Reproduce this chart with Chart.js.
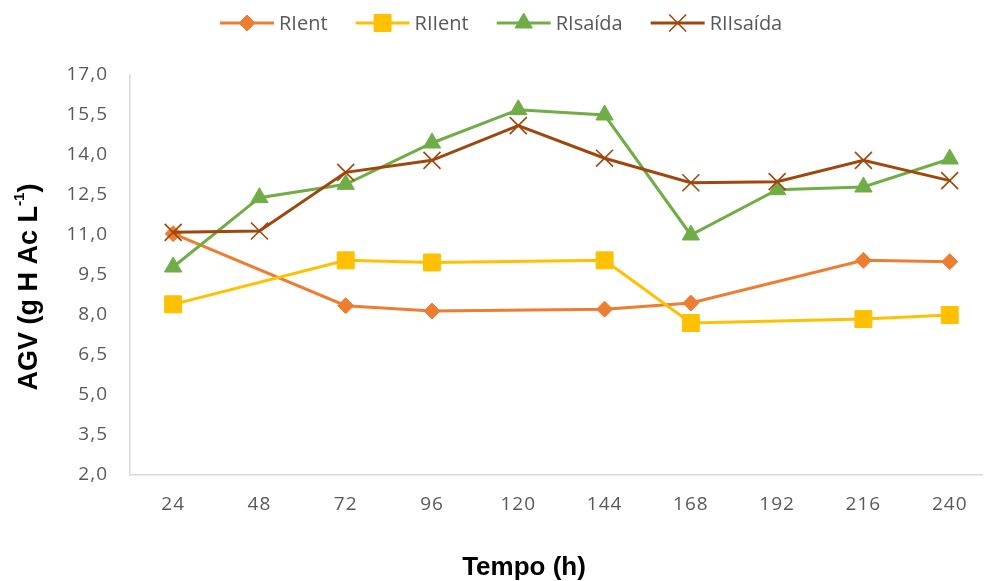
<!DOCTYPE html>
<html>
<head>
<meta charset="utf-8">
<script src="https://cdn.jsdelivr.net/npm/chart.js@4/dist/chart.umd.min.js"></script>
<style>
  html, body { margin: 0; padding: 0; background: #ffffff; }
  #wrap { width: 984px; height: 581px; position: relative; }
</style>
</head>
<body>
<div id="wrap"><canvas id="chart" width="984" height="581"></canvas></div>
<script>
// Sampling times (h)
const categories = [24, 48, 72, 96, 120, 144, 168, 192, 216, 240];

// AGV (g H Ac L-1) per reactor; null = not measured at that time
const rIent    = [11.05, null, 8.35, 8.15, null, 8.22, 8.45, null, 10.05, 10.0];
const rIIent   = [8.4,   null, 10.05, 9.97, null, 10.05, 7.7, null, 7.85, 8.0];
const rIsaida  = [9.8, 12.4, 12.9, 14.45, 15.7, 15.5, 11.0, 12.7, 12.8, 13.85];
const rIIsaida = [11.1, 11.15, 13.35, 13.8, 15.1, 13.88, 12.96, 13.0, 13.8, 13.04];

// Y axis ticks
const yTicks = [2.0, 3.5, 5.0, 6.5, 8.0, 9.5, 11.0, 12.5, 14.0, 15.5, 17.0];

const seriesNames = ['RIent', 'RIIent', 'RIsaída', 'RIIsaída'];
const seriesValues = [rIent, rIIent, rIsaida, rIIsaida];
const seriesColors = ['#ED7D31', '#FFC000', '#70AD47', '#9E480E'];
const seriesMarkers = [
  { pointStyle: 'rectRot',  radius: 8,  borderWidth: 1 },
  { pointStyle: 'rect',     radius: 12, borderWidth: 1 },
  { pointStyle: 'triangle', radius: 10, borderWidth: 1 },
  { pointStyle: 'crossRot', radius: 12, borderWidth: 1.6 }
];

const toPoints = vals => categories
  .map((c, i) => ({ x: c, y: vals[i] }))
  .filter(p => p.y !== null);

const datasets = seriesNames.map((name, i) => ({
  label: name,
  data: toPoints(seriesValues[i]),
  borderColor: seriesColors[i],
  backgroundColor: seriesColors[i],
  borderWidth: 3,
  pointStyle: seriesMarkers[i].pointStyle,
  pointRadius: seriesMarkers[i].radius,
  pointHoverRadius: seriesMarkers[i].radius,
  pointBorderWidth: seriesMarkers[i].borderWidth,
  pointBackgroundColor: seriesColors[i],
  pointBorderColor: seriesColors[i],
  tension: 0,
  spanGaps: true,
  order: seriesNames.length - i
}));

const fmt = v => v.toFixed(1).replace('.', ',');

// Slightly spaced digits on the axis tick labels
const tickSpacing = {
  id: 'tickSpacing',
  beforeDraw(chart) { chart.ctx.letterSpacing = '1px'; },
  afterDraw(chart) { chart.ctx.letterSpacing = '0px'; }
};

// Legend and axis titles drawn on the canvas
const decorations = {
  id: 'decorations',
  afterDraw(chart) {
    const ctx = chart.ctx;
    ctx.save();
    ctx.letterSpacing = '0px';

    // Legend: line with marker, then label
    const legendFont = '20px "Open Sans", sans-serif';
    ctx.font = legendFont;
    const lineLen = 54, textGap = 5, itemGap = 28, ly = 23;
    const widths = seriesNames.map(n => lineLen + textGap + ctx.measureText(n).width);
    let x = 220;
    seriesNames.forEach((name, i) => {
      ctx.strokeStyle = seriesColors[i];
      ctx.lineWidth = 3;
      ctx.beginPath();
      ctx.moveTo(x, ly);
      ctx.lineTo(x + lineLen, ly);
      ctx.stroke();
      ctx.fillStyle = seriesColors[i];
      ctx.strokeStyle = seriesColors[i];
      ctx.lineWidth = seriesMarkers[i].borderWidth;
      Chart.helpers.drawPoint(ctx, {
        pointStyle: seriesMarkers[i].pointStyle,
        radius: seriesMarkers[i].radius,
        rotation: 0,
        borderWidth: seriesMarkers[i].borderWidth
      }, x + lineLen / 2, ly);
      ctx.fillStyle = '#595959';
      ctx.font = legendFont;
      ctx.textAlign = 'left';
      ctx.textBaseline = 'middle';
      ctx.fillText(name, x + lineLen + textGap, ly + 1);
      x += widths[i] + itemGap;
    });

    // X axis title
    ctx.fillStyle = '#000000';
    ctx.font = 'bold 26px "Liberation Sans", Arial, sans-serif';
    ctx.textAlign = 'center';
    ctx.textBaseline = 'middle';
    ctx.fillText('Tempo (h)', 524, 568);

    // Y axis title with superscript
    const mainFont = 'bold 27px "Liberation Sans", Arial, sans-serif';
    const supFont = 'bold 15px "Liberation Sans", Arial, sans-serif';
    const main = 'AGV (g H Ac L', sup = '-1', tail = ')';
    ctx.font = mainFont;
    const wMain = ctx.measureText(main).width;
    const wTail = ctx.measureText(tail).width;
    ctx.font = supFont;
    const wSup = ctx.measureText(sup).width;
    const tw = wMain + wSup + wTail;
    ctx.translate(30, 287);
    ctx.rotate(-Math.PI / 2);
    ctx.textAlign = 'left';
    ctx.textBaseline = 'middle';
    let tx = -tw / 2;
    ctx.font = mainFont;
    ctx.fillText(main, tx, 0);
    tx += wMain;
    ctx.font = supFont;
    ctx.fillText(sup, tx, -10);
    tx += wSup;
    ctx.font = mainFont;
    ctx.fillText(tail, tx, 0);

    ctx.restore();
  }
};

new Chart(document.getElementById('chart'), {
  type: 'line',
  data: { datasets },
  options: {
    responsive: false,
    animation: false,
    layout: { autoPadding: false, padding: { top: 75, left: 0, right: 0, bottom: 0 } },
    plugins: {
      legend: { display: false },
      tooltip: { enabled: false },
      title: { display: false }
    },
    scales: {
      x: {
        type: 'linear',
        min: 12,
        max: 249.2,
        afterBuildTicks(scale) {
          scale.ticks = categories.map(v => ({ value: v }));
        },
        afterFit(scale) { scale.height = 106; },
        grid: { display: false, drawTicks: false },
        border: { display: true, color: '#D9D9D9', width: 1.5 },
        ticks: {
          padding: 18,
          color: '#595959',
          font: { family: '"Open Sans", sans-serif', size: 19 },
          maxRotation: 0,
          autoSkip: false,
          callback: v => String(v)
        }
      },
      y: {
        min: 2,
        max: 17,
        afterBuildTicks(scale) {
          scale.ticks = yTicks.map(v => ({ value: v }));
        },
        afterFit(scale) { scale.width = 130; },
        grid: { display: false, drawTicks: false },
        border: { display: true, color: '#D9D9D9', width: 1.5 },
        ticks: {
          padding: 22,
          color: '#595959',
          font: { family: '"Open Sans", sans-serif', size: 19 },
          callback: v => fmt(v)
        }
      }
    }
  },
  plugins: [tickSpacing, decorations]
});
</script>
</body>
</html>
